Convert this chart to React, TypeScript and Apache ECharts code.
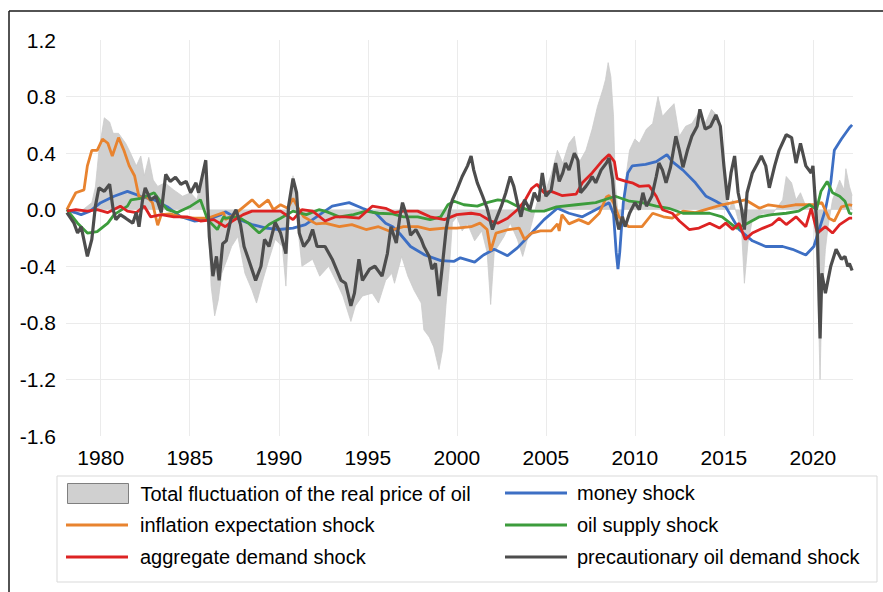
import React, { useEffect, useRef } from "react";
import * as echarts from "echarts";

const xTickYears = [1980, 1985, 1990, 1995, 2000, 2005, 2010, 2015, 2020];

const seriesNames = [
  "Total fluctuation of the real price of oil",
  "money shock",
  "inflation expectation shock",
  "oil supply shock",
  "aggregate demand shock",
  "precautionary oil demand shock",
];

const totalFluctuation: [number, number][] = [
  [1978.1, 0], [1978.5, -0.03], [1979.0, 0], [1979.5, 0.05], [1979.7, 0.16], [1979.9, 0.42], [1980.2, 0.65], [1980.5, 0.62], [1980.7, 0.54], [1981.0, 0.54], [1981.4, 0.47], [1981.6, 0.42], [1982.0, 0.31], [1982.25, 0.38], [1982.45, 0.24], [1982.7, 0.37], [1982.95, 0.21], [1983.2, 0.165], [1983.6, 0.19], [1984.1, 0.14], [1984.6, 0.095], [1985.05, 0.12], [1985.4, 0.07], [1985.85, 0.31], [1986.0, 0.05], [1986.2, -0.54], [1986.4, -0.75], [1986.6, -0.64], [1986.8, -0.45], [1987.1, -0.35], [1987.35, -0.26], [1987.7, -0.19], [1988.1, -0.45], [1988.5, -0.57], [1988.75, -0.66], [1989.1, -0.5], [1989.45, -0.35], [1989.8, -0.21], [1990.2, -0.26], [1990.4, -0.54], [1990.6, 0], [1990.8, 0.24], [1991.05, -0.1], [1991.3, -0.4], [1991.9, -0.35], [1992.3, -0.47], [1992.8, -0.4], [1993.2, -0.5], [1993.6, -0.61], [1994.05, -0.79], [1994.3, -0.68], [1994.7, -0.61], [1995.25, -0.59], [1995.6, -0.66], [1996.0, -0.5], [1996.35, -0.45], [1996.5, -0.52], [1996.9, -0.33], [1997.25, -0.47], [1997.6, -0.57], [1998.0, -0.66], [1998.15, -0.85], [1998.45, -0.9], [1998.7, -0.97], [1999.0, -1.13], [1999.2, -0.99], [1999.4, -0.66], [1999.6, -0.38], [1999.75, -0.09], [2000.0, -0.05], [2000.3, -0.15], [2000.6, -0.1], [2001.0, -0.22], [2001.4, -0.15], [2001.7, -0.3], [2001.9, -0.67], [2002.1, -0.3], [2002.3, -0.26], [2002.65, -0.19], [2003.0, -0.095], [2003.4, -0.21], [2003.7, -0.33], [2004.2, -0.1], [2004.5, 0.05], [2005.0, 0.14], [2005.3, 0.25], [2005.65, 0.42], [2005.95, 0.33], [2006.3, 0.47], [2006.6, 0.52], [2006.85, 0.33], [2007.25, 0.42], [2007.6, 0.57], [2007.9, 0.73], [2008.2, 0.85], [2008.35, 0.92], [2008.5, 1.04], [2008.65, 0.94], [2008.8, 0.66], [2008.9, 0.19], [2009.1, -0.1], [2009.3, -0.05], [2009.45, 0.19], [2009.7, 0.42], [2010.0, 0.5], [2010.25, 0.47], [2010.65, 0.57], [2011.0, 0.61], [2011.3, 0.8], [2011.55, 0.66], [2011.9, 0.71], [2012.2, 0.75], [2012.5, 0.52], [2012.85, 0.59], [2013.2, 0.61], [2013.55, 0.68], [2013.95, 0.61], [2014.3, 0.71], [2014.65, 0.66], [2014.95, 0.38], [2015.1, 0.165], [2015.3, 0], [2015.5, 0.07], [2015.7, -0.025], [2016.0, -0.165], [2016.15, -0.52], [2016.35, -0.235], [2016.6, -0.07], [2017.2, -0.025], [2017.7, -0.035], [2018.3, 0.07], [2018.5, 0.235], [2018.8, 0.19], [2019.05, 0.07], [2019.3, 0.12], [2019.6, 0.025], [2020.0, 0], [2020.15, -0.21], [2020.25, -0.4], [2020.4, -1.2], [2020.5, -0.64], [2020.7, -0.28], [2020.85, -0.12], [2021.1, 0.07], [2021.5, 0.21], [2021.75, 0.14], [2021.85, 0.29], [2022.05, 0.165], [2022.2, 0.1],
];

const moneyShock: [number, number][] = [
  [1978.1, 0], [1978.9, -0.035], [1979.4, -0.01], [1980.0, 0.05], [1980.75, 0.095], [1981.5, 0.13], [1982.25, 0.095], [1983.0, 0.07], [1983.75, 0.02], [1984.5, -0.05], [1985.25, -0.08], [1986.0, -0.07], [1986.75, -0.035], [1987.0, -0.015], [1987.8, -0.07], [1988.5, -0.105], [1989.3, -0.13], [1990.0, -0.14], [1990.8, -0.13], [1991.5, -0.105], [1992.3, -0.035], [1993.0, 0.025], [1993.95, 0.05], [1994.7, 0.01], [1995.45, -0.025], [1996.0, -0.095], [1996.4, -0.12], [1996.8, -0.17], [1997.4, -0.26], [1998.2, -0.32], [1999.1, -0.36], [1999.85, -0.365], [2000.2, -0.34], [2001.0, -0.37], [2001.5, -0.32], [2002.1, -0.28], [2002.85, -0.325], [2003.4, -0.27], [2004.2, -0.165], [2004.9, -0.07], [2005.65, 0.01], [2006.3, -0.025], [2007.05, -0.05], [2007.8, 0], [2008.55, 0.05], [2008.8, -0.03], [2008.95, -0.3], [2009.05, -0.42], [2009.15, -0.3], [2009.35, 0.05], [2009.6, 0.26], [2009.85, 0.31], [2010.6, 0.32], [2011.2, 0.34], [2011.8, 0.39], [2012.1, 0.34], [2012.7, 0.28], [2013.4, 0.19], [2014.0, 0.095], [2014.55, 0.06], [2015.1, 0.02], [2015.85, -0.14], [2016.6, -0.22], [2017.35, -0.26], [2018.3, -0.26], [2018.85, -0.28], [2019.6, -0.32], [2020.05, -0.26], [2020.35, -0.14], [2020.7, 0], [2021.0, 0.19], [2021.2, 0.42], [2021.6, 0.5], [2022.05, 0.58], [2022.2, 0.6],
];

const inflationShock: [number, number][] = [
  [1978.1, 0], [1978.6, 0.12], [1979.06, 0.14], [1979.25, 0.31], [1979.5, 0.42], [1979.8, 0.42], [1980.1, 0.5], [1980.4, 0.47], [1980.65, 0.38], [1981.0, 0.51], [1981.3, 0.42], [1981.6, 0.31], [1981.9, 0.24], [1982.15, 0.09], [1982.6, 0.09], [1982.9, 0.05], [1983.2, -0.11], [1983.4, -0.035], [1983.9, -0.03], [1984.5, -0.05], [1985.25, -0.06], [1986.0, -0.06], [1986.9, -0.02], [1987.0, -0.07], [1987.5, -0.035], [1988.5, 0.07], [1988.9, 0.02], [1989.4, 0.07], [1989.7, 0], [1990.1, 0.035], [1990.5, 0.01], [1990.8, 0.08], [1991.05, 0.02], [1991.4, -0.05], [1992.1, -0.1], [1992.6, -0.095], [1993.4, -0.12], [1994.1, -0.105], [1994.9, -0.14], [1995.6, -0.12], [1996.2, -0.15], [1997.0, -0.12], [1997.8, -0.12], [1998.5, -0.14], [1999.3, -0.13], [2000.0, -0.13], [2000.8, -0.12], [2001.3, -0.095], [2001.7, -0.14], [2001.9, -0.29], [2002.2, -0.165], [2002.9, -0.14], [2003.5, -0.13], [2003.8, -0.21], [2004.2, -0.165], [2004.7, -0.15], [2005.3, -0.15], [2005.65, -0.1], [2005.75, -0.15], [2005.9, -0.035], [2006.3, -0.1], [2006.85, -0.07], [2007.4, -0.1], [2008.0, -0.025], [2008.4, 0.09], [2008.55, 0.1], [2008.8, 0.05], [2009.1, -0.05], [2009.65, -0.12], [2010.4, -0.12], [2011.0, -0.025], [2011.6, -0.05], [2012.1, -0.06], [2012.7, -0.01], [2013.4, -0.02], [2014.2, 0.01], [2014.9, 0.035], [2016.2, 0.07], [2017.0, 0.01], [2017.5, 0.035], [2018.3, 0.02], [2019.0, 0.035], [2020.0, 0.035], [2020.5, 0.05], [2020.9, -0.06], [2021.2, -0.08], [2021.6, 0.02], [2022.05, 0.035], [2022.2, 0.03],
];

const oilSupplyShock: [number, number][] = [
  [1978.1, 0], [1978.7, -0.095], [1979.25, -0.165], [1979.8, -0.155], [1980.4, -0.095], [1980.75, -0.035], [1981.5, 0.025], [1981.7, 0.07], [1982.25, 0.08], [1983.0, 0.12], [1983.4, 0.05], [1983.75, 0], [1984.3, -0.02], [1985.05, 0.025], [1985.6, 0.07], [1986.0, -0.07], [1986.55, -0.14], [1986.9, -0.05], [1987.0, -0.06], [1987.7, -0.05], [1988.3, -0.095], [1988.9, -0.165], [1989.45, -0.105], [1990.1, -0.06], [1990.8, -0.01], [1991.55, -0.035], [1992.25, 0], [1992.6, -0.01], [1993.4, -0.05], [1994.2, -0.035], [1994.9, -0.01], [1995.6, -0.025], [1996.4, -0.03], [1997.0, -0.05], [1997.8, -0.05], [1998.5, -0.07], [1999.1, -0.05], [1999.5, 0.035], [1999.85, 0.06], [2000.4, 0.035], [2001.15, 0.025], [2001.7, 0.05], [2002.3, 0.07], [2002.85, 0.06], [2003.4, 0.025], [2004.2, -0.01], [2004.9, -0.01], [2005.6, 0.02], [2006.7, 0.035], [2007.8, 0.05], [2008.9, 0.095], [2009.7, 0.06], [2010.4, 0.05], [2011.2, 0.025], [2011.9, 0.01], [2012.7, -0.025], [2013.4, -0.025], [2014.2, -0.025], [2014.9, -0.05], [2015.1, -0.07], [2015.7, -0.13], [2016.2, -0.105], [2017.0, -0.05], [2017.7, -0.035], [2018.5, -0.025], [2019.2, -0.01], [2019.8, 0.035], [2020.2, 0], [2020.45, 0.13], [2020.8, 0.2], [2021.1, 0.12], [2021.5, 0.095], [2021.8, 0.06], [2022.05, -0.025], [2022.2, -0.03],
];

const aggregateDemandShock: [number, number][] = [
  [1978.1, -0.01], [1978.6, 0], [1979.25, -0.01], [1979.8, 0], [1980.4, -0.02], [1981.1, 0.025], [1981.5, -0.01], [1982.0, -0.02], [1982.45, 0.025], [1982.8, -0.05], [1983.4, -0.035], [1984.1, -0.05], [1984.85, -0.05], [1985.6, -0.08], [1986.35, -0.07], [1987.0, -0.12], [1987.4, -0.08], [1988.0, -0.035], [1988.5, -0.01], [1989.3, -0.01], [1990.1, -0.01], [1990.8, -0.07], [1991.3, 0], [1991.9, -0.01], [1992.6, -0.08], [1993.2, -0.05], [1993.75, -0.05], [1994.5, -0.06], [1995.25, 0.025], [1996.0, 0.01], [1996.5, -0.02], [1997.0, -0.01], [1997.8, -0.01], [1998.5, -0.05], [1999.3, -0.07], [2000.0, -0.035], [2000.8, -0.025], [2001.3, -0.035], [2001.9, -0.08], [2002.3, -0.095], [2002.85, -0.06], [2003.4, 0], [2003.8, 0.06], [2004.2, 0.15], [2004.5, 0.18], [2004.9, 0.12], [2005.3, 0.13], [2005.9, 0.1], [2006.7, 0.11], [2007.05, 0.19], [2007.6, 0.26], [2008.2, 0.35], [2008.55, 0.39], [2008.85, 0.34], [2009.0, 0.22], [2009.5, 0.2], [2009.85, 0.19], [2010.25, 0.165], [2010.8, 0.17], [2011.2, 0.095], [2011.55, 0], [2012.1, -0.025], [2012.5, -0.08], [2013.05, -0.14], [2013.6, -0.13], [2014.2, -0.095], [2014.75, -0.13], [2015.1, -0.095], [2015.5, -0.14], [2015.85, -0.095], [2016.2, -0.21], [2016.6, -0.165], [2017.2, -0.13], [2017.7, -0.105], [2018.1, -0.06], [2018.5, -0.105], [2019.05, -0.05], [2019.6, -0.12], [2019.9, 0.01], [2020.25, -0.165], [2020.7, -0.12], [2021.1, -0.165], [2021.5, -0.105], [2022.05, -0.06], [2022.2, -0.06],
];

const precautionaryShock: [number, number][] = [
  [1978.1, -0.02], [1978.5, -0.095], [1978.7, -0.165], [1978.9, -0.12], [1979.25, -0.33], [1979.5, -0.21], [1979.7, 0.025], [1979.9, 0.155], [1980.2, 0.13], [1980.5, 0.18], [1980.7, 0], [1980.85, -0.07], [1981.1, -0.035], [1981.4, -0.06], [1981.8, -0.095], [1982.0, -0.02], [1982.15, -0.12], [1982.35, 0.07], [1982.5, 0.155], [1982.8, 0.07], [1983.1, 0.095], [1983.4, -0.02], [1983.65, 0.25], [1983.9, 0.2], [1984.2, 0.23], [1984.5, 0.18], [1984.8, 0.2], [1985.05, 0.12], [1985.35, 0.19], [1985.5, 0.12], [1985.9, 0.35], [1986.1, -0.19], [1986.3, -0.47], [1986.5, -0.33], [1986.65, -0.5], [1986.85, -0.24], [1987.05, -0.22], [1987.3, -0.07], [1987.6, 0], [1987.85, -0.105], [1988.05, -0.26], [1988.3, -0.35], [1988.7, -0.5], [1989.0, -0.4], [1989.2, -0.21], [1989.45, -0.26], [1989.8, -0.09], [1990.1, -0.165], [1990.4, -0.31], [1990.55, 0.025], [1990.8, 0.22], [1991.0, 0.12], [1991.15, -0.165], [1991.4, -0.26], [1991.7, -0.21], [1991.9, -0.14], [1992.15, -0.26], [1992.6, -0.26], [1993.0, -0.35], [1993.5, -0.5], [1993.75, -0.52], [1994.05, -0.68], [1994.25, -0.59], [1994.5, -0.35], [1994.7, -0.5], [1995.1, -0.42], [1995.4, -0.4], [1995.8, -0.47], [1996.1, -0.31], [1996.3, -0.12], [1996.6, -0.235], [1996.8, -0.05], [1996.95, 0.05], [1997.25, -0.07], [1997.4, -0.18], [1997.7, -0.14], [1998.0, -0.21], [1998.15, -0.26], [1998.45, -0.33], [1998.6, -0.42], [1998.8, -0.38], [1999.0, -0.61], [1999.2, -0.38], [1999.4, -0.14], [1999.6, 0], [1999.75, 0.07], [2000.0, 0.14], [2000.3, 0.235], [2000.6, 0.31], [2000.8, 0.38], [2000.95, 0.28], [2001.15, 0.19], [2001.45, 0.095], [2001.7, 0.01], [2002.0, -0.14], [2002.2, -0.07], [2002.5, 0.025], [2002.75, 0.12], [2003.0, 0.235], [2003.2, 0.165], [2003.4, 0.05], [2003.6, -0.05], [2003.8, 0.07], [2004.1, 0], [2004.35, 0.12], [2004.6, 0.06], [2004.8, 0.26], [2005.0, 0.095], [2005.3, 0.14], [2005.55, 0.33], [2005.75, 0.2], [2005.95, 0.26], [2006.1, 0.33], [2006.3, 0.28], [2006.6, 0.4], [2006.8, 0.35], [2006.95, 0.12], [2007.25, 0.165], [2007.45, 0.2], [2007.6, 0.235], [2007.8, 0.19], [2008.1, 0.28], [2008.4, 0.33], [2008.55, 0.365], [2008.75, 0.21], [2008.9, -0.025], [2009.1, -0.14], [2009.3, -0.05], [2009.45, -0.12], [2009.7, -0.025], [2010.0, 0.05], [2010.25, 0], [2010.45, 0.12], [2010.65, 0.025], [2010.95, 0.095], [2011.2, 0.235], [2011.35, 0.33], [2011.55, 0.28], [2011.75, 0.19], [2012.0, 0.3], [2012.3, 0.52], [2012.5, 0.42], [2012.7, 0.3], [2012.95, 0.42], [2013.2, 0.52], [2013.5, 0.59], [2013.65, 0.71], [2013.95, 0.57], [2014.25, 0.59], [2014.55, 0.67], [2014.8, 0.59], [2015.0, 0.31], [2015.2, 0.07], [2015.4, 0.26], [2015.6, 0.38], [2015.8, 0.12], [2016.0, 0], [2016.15, -0.14], [2016.3, 0.12], [2016.6, 0.26], [2016.9, 0.33], [2017.1, 0.38], [2017.35, 0.31], [2017.55, 0.155], [2017.85, 0.31], [2018.1, 0.42], [2018.5, 0.53], [2018.8, 0.51], [2019.05, 0.33], [2019.3, 0.47], [2019.6, 0.31], [2019.9, 0.26], [2020.0, 0.31], [2020.25, -0.165], [2020.4, -0.91], [2020.5, -0.45], [2020.7, -0.59], [2021.0, -0.4], [2021.3, -0.28], [2021.6, -0.35], [2021.8, -0.33], [2021.95, -0.4], [2022.05, -0.38], [2022.2, -0.43],
];

const seriesColors = ["#d0d0d0", "#3d6fc4", "#e8832f", "#3c9c3c", "#dd2323", "#4d4d4d"];

export default function App() {
  const ref = useRef<HTMLDivElement>(null);
  useEffect(() => {
    if (!ref.current) return;
    const chart = echarts.init(ref.current, null, { renderer: "svg" });
    const font = "Liberation Sans";
    const textStyle = { fontFamily: font, fontSize: 20, color: "#000", lineHeight: 20 };
    const lineSeries = (i: number, data: [number, number][], width: number) => ({
      name: seriesNames[i],
      type: "line",
      data,
      symbol: "none",
      showSymbol: false,
      lineStyle: { color: seriesColors[i], width },
      itemStyle: { color: seriesColors[i] },
    });
    const lineLegend = (left: number, top: number, names: string[], gap: number) => ({
      orient: "vertical",
      left,
      top,
      padding: 0,
      itemWidth: 62,
      itemHeight: 3,
      itemGap: 12,
      icon: "rect",
      textStyle: { ...textStyle, padding: [0, 0, 0, gap] },
      data: names,
    });
    chart.setOption({
      animation: false,
      backgroundColor: "#ffffff",
      grid: { left: 66, right: 30, top: 40, bottom: 156, containLabel: false },
      xAxis: {
        type: "value",
        min: 1978.05,
        max: 2022.25,
        axisLine: { show: false },
        axisTick: { show: false, customValues: xTickYears },
        axisLabel: {
          customValues: xTickYears,
          fontFamily: font,
          fontSize: 21,
          color: "#000",
          margin: 11,
          formatter: (v: number) => String(Math.round(v)),
        },
        splitLine: { show: true, lineStyle: { color: "#ebebeb", width: 1 } },
      },
      yAxis: {
        type: "value",
        min: -1.6,
        max: 1.2,
        interval: 0.4,
        axisLine: { show: false },
        axisTick: { show: false },
        axisLabel: {
          fontFamily: font,
          fontSize: 21,
          color: "#000",
          margin: 10,
          formatter: (v: number) => (Math.abs(v) < 1e-9 ? "0.0" : v.toFixed(1)),
        },
        splitLine: {
          show: true,
          lineStyle: {
            color: ["rgba(0,0,0,0)", "#ebebeb", "#ebebeb", "#ebebeb", "#ebebeb", "#ebebeb", "#ebebeb", "rgba(0,0,0,0)"],
            width: 1,
          },
        },
      },
      legend: [
        {
          orient: "vertical",
          left: 67,
          top: 483,
          padding: 0,
          itemWidth: 61,
          itemHeight: 20,
          itemGap: 12,
          textStyle: { ...textStyle, padding: [0, 0, 0, 7] },
          data: [
            { name: seriesNames[0], icon: "rect", itemStyle: { color: "#d0d0d0", borderColor: "#7f7f7f", borderWidth: 1 } },
          ],
        },
        lineLegend(66, 515, [seriesNames[2], seriesNames[4]], 7),
        lineLegend(505, 483, [seriesNames[1], seriesNames[3], seriesNames[5]], 5),
      ],
      graphic: [
        { type: "line", shape: { x1: 9, y1: 11, x2: 883, y2: 11 }, style: { stroke: "#1a1a1a", lineWidth: 1.5 }, z: 100 },
        { type: "line", shape: { x1: 9, y1: 11, x2: 9, y2: 592 }, style: { stroke: "#1a1a1a", lineWidth: 1.5 }, z: 100 },
        { type: "rect", shape: { x: 57, y: 476, width: 820, height: 106 }, style: { fill: "none", stroke: "#d9d9d9", lineWidth: 1 }, z: 100 },
      ],
      series: [
        {
          name: seriesNames[0],
          type: "line",
          data: totalFluctuation,
          symbol: "none",
          showSymbol: false,
          lineStyle: { color: "#cccccc", width: 0.8 },
          itemStyle: { color: "#d0d0d0" },
          areaStyle: { color: "#d0d0d0", opacity: 1 },
        },
        lineSeries(1, moneyShock, 2.8),
        lineSeries(2, inflationShock, 2.8),
        lineSeries(3, oilSupplyShock, 2.8),
        lineSeries(4, aggregateDemandShock, 2.8),
        lineSeries(5, precautionaryShock, 3.2),
      ],
    });
    return () => chart.dispose();
  }, []);
  return (
    <div
      ref={ref}
      style={{ position: "fixed", left: 0, top: 0, width: 883, height: 592, background: "#fff" }}
    />
  );
}
